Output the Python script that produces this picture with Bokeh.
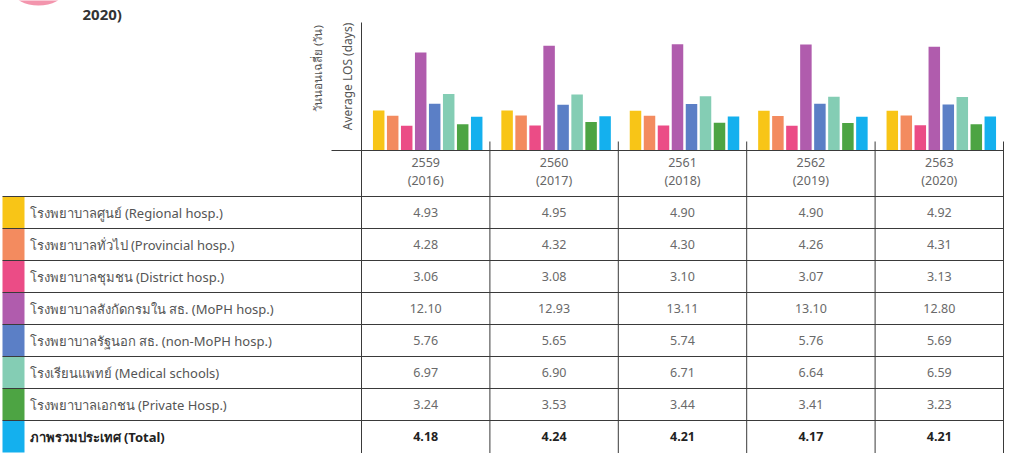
import math
from bokeh.plotting import figure
from bokeh.models import Range1d, ColumnDataSource
from bokeh.core.properties import value
from bokeh.embed import file_html
from bokeh.resources import INLINE

# ---------------- data ----------------
years_be = ["2559", "2560", "2561", "2562", "2563"]
years_ce = ["2016", "2017", "2018", "2019", "2020"]
cat_keys = ["Regional", "Provincial", "District", "MoPH", "nonMoPH", "Medical", "Private", "Total"]
cat_labels = [
    "โรงพยาบาลศูนย์ (Regional hosp.)",
    "โรงพยาบาลทั่วไป (Provincial hosp.)",
    "โรงพยาบาลชุมชน (District hosp.)",
    "โรงพยาบาลสังกัดกรมใน สธ. (MoPH hosp.)",
    "โรงพยาบาลรัฐนอก สธ. (non-MoPH hosp.)",
    "โรงเรียนแพทย์ (Medical schools)",
    "โรงพยาบาลเอกชน (Private Hosp.)",
    "ภาพรวมประเทศ (Total)",
]
regional = [4.93, 4.95, 4.90, 4.90, 4.92]
provincial = [4.28, 4.32, 4.30, 4.26, 4.31]
district = [3.06, 3.08, 3.10, 3.07, 3.13]
moph = [12.10, 12.93, 13.11, 13.10, 12.80]
non_moph = [5.76, 5.65, 5.74, 5.76, 5.69]
medical = [6.97, 6.90, 6.71, 6.64, 6.59]
private = [3.24, 3.53, 3.44, 3.41, 3.23]
total = [4.18, 4.24, 4.21, 4.17, 4.21]
series = [regional, provincial, district, moph, non_moph, medical, private, total]
colors = ["#F8C517", "#F38B5F", "#EB4C86", "#B05CAD", "#5B7FC6", "#84CDB4", "#4DA443", "#14B0EE"]
title_tail = "2020)"
ylabel_th = "วันนอนเฉลี่ย (วัน)"
ylabel_en = "Average LOS (days)"

# ---------------- layout constants (figure pixels) ----------------
W, H = 1005, 453
STRIP_L, STRIP_R = 2, 24
LABEL_X = 29
TBL_L = 361                       # y-axis / first column left edge
TBL_R = 1003
COL_W = (TBL_R - TBL_L) / len(years_be)
BASE_Y = 150                      # x-axis line (px from top)
HDR_B = 196                       # header bottom
ROW_H = 32
PX_PER_DAY = 8.1
PITCH = 14                        # bar pitch inside a group
BAR_W = 11.5
GROUP_SHIFT = 2
FONT = "Noto Sans"
LINE = "#3a3a3a"

p = figure(width=W, height=H,
           x_range=Range1d(0, W), y_range=Range1d(H, 0),
           x_axis_location=None, y_axis_location=None,
           toolbar_location=None, output_backend="svg",
           min_border_left=0, min_border_right=0,
           min_border_top=0, min_border_bottom=0)
p.outline_line_color = None
p.grid.visible = False
p.background_fill_color = "white"
p.border_fill_color = "white"
p.extra_y_ranges = {"days": Range1d(start=-(H - BASE_Y) / PX_PER_DAY, end=BASE_Y / PX_PER_DAY)}

col_center = [TBL_L + COL_W * (i + 0.5) for i in range(len(years_be))]

# ---------------- bars ----------------
bx, btop, bcol = [], [], []
nc = len(cat_keys)
for yi in range(len(years_be)):
    for ci in range(nc):
        bx.append(col_center[yi] + GROUP_SHIFT + (ci - (nc - 1) / 2) * PITCH)
        btop.append(series[ci][yi])
        bcol.append(colors[ci])
p.vbar(x="x", top="top", width=BAR_W, bottom=0, fill_color="color", line_color=None,
       y_range_name="days", source=ColumnDataSource(dict(x=bx, top=btop, color=bcol)))

# pink icon (partially visible at top)
p.ellipse(x=[38], y=[-9], width=[50], height=[28], fill_color="#F07A98",
          line_color=None, fill_alpha=0.8)

# title fragment
p.text(x=[82], y=[13], text=[title_tail], text_font=value(FONT), text_font_size="15px",
       text_font_style="bold", text_color="#333333", text_baseline="middle")

# y axis labels (rotated)
p.text(x=[317], y=[68], text=[ylabel_th], angle=math.pi / 2, text_font=value(FONT),
       text_font_size="11.5px", text_color="#555555", text_align="center",
       text_baseline="middle")
p.text(x=[347], y=[76], text=[ylabel_en], angle=math.pi / 2, text_font=value(FONT),
       text_font_size="12px", text_color="#555555", text_align="center",
       text_baseline="middle")

# axes lines
p.segment(x0=[TBL_L], x1=[TBL_L], y0=[22], y1=[H], line_color=LINE, line_width=1)
p.segment(x0=[331], x1=[TBL_R], y0=[BASE_Y], y1=[BASE_Y], line_color=LINE, line_width=1)

# column lines (extend above axis as ticks)
col_x = [TBL_L + COL_W * (j + 1) for j in range(len(years_be))]
p.segment(x0=col_x, x1=col_x, y0=[BASE_Y - 9] * len(col_x), y1=[H] * len(col_x),
          line_color=LINE, line_width=1)

# row strips and row lines
row_top = [HDR_B + ROW_H * k for k in range(nc)]
p.quad(left=[STRIP_L] * nc, right=[STRIP_R] * nc, top=row_top,
       bottom=[t + ROW_H for t in row_top], fill_color=colors, line_color=None)
p.segment(x0=[STRIP_L] * nc, x1=[TBL_R] * nc, y0=row_top, y1=row_top, line_color=LINE,
          line_width=1)

# header
p.text(x=col_center, y=[BASE_Y + 12] * len(years_be), text=years_be, text_font=value(FONT),
       text_font_size="12.5px", text_color="#666666", text_align="center",
       text_baseline="middle")
p.text(x=col_center, y=[BASE_Y + 30] * len(years_be), text=["(" + c + ")" for c in years_ce],
       text_font=value(FONT), text_font_size="12.5px", text_color="#666666",
       text_align="center", text_baseline="middle")

# row labels and values
for k in range(nc):
    yc = row_top[k] + ROW_H / 2
    bold = (k == nc - 1)
    p.text(x=[LABEL_X], y=[yc], text=[cat_labels[k]], text_font=value(FONT),
           text_font_size="13px", text_font_style="bold" if bold else "normal",
           text_color="#222222" if bold else "#555555", text_baseline="middle")
    p.text(x=col_center, y=[yc] * len(years_be), text=[f"{v:.2f}" for v in series[k]],
           text_font=value(FONT), text_font_size="12.5px",
           text_font_style="bold" if bold else "normal",
           text_color="#222222" if bold else "#6a6a6a", text_align="center",
           text_baseline="middle")

open("out.html", "w").write(file_html(p, INLINE))
